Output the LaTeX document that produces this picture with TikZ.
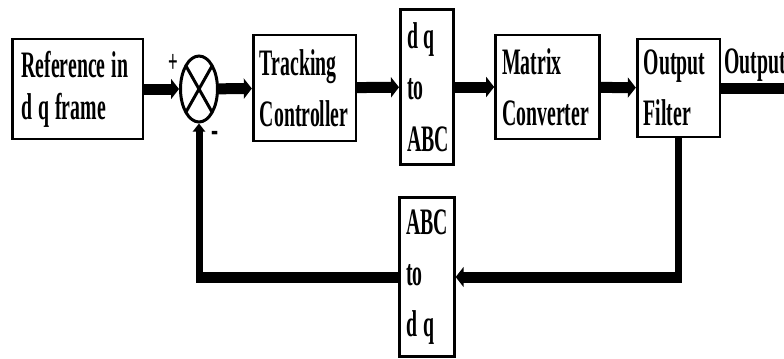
\documentclass[tikz,border=0pt]{standalone}
\usepackage{fontspec}
\usetikzlibrary{arrows.meta,shapes.geometric}
\newfontfamily\blockfont{Liberation Serif}[FakeStretch=0.53,WordSpace=1.2]

\tikzset{
  block/.style={draw, line width=2pt, align=flush left, inner xsep=5pt, inner ysep=2pt,
    font=\blockfont\bfseries\fontsize{28pt}{38.5pt}\selectfont},
  hwire/.style={line width=8.25pt},
  vwire/.style={line width=5.25pt},
  harrow/.style={hwire, -{Triangle[length=6pt,width=15pt]}},
  varrow/.style={vwire, -{Triangle[length=6pt,width=9pt]}},
  sign/.style={inner sep=0pt, font=\blockfont\bfseries\fontsize{#1}{#1}\selectfont},
}

\begin{document}
\begin{tikzpicture}[x=0.75pt,y=0.75pt,yscale=-1,xscale=1]
\useasboundingbox (0,0) rectangle (784,358);

% forward path blocks
\node[block, inner xsep=7pt, text width=84pt, minimum height=75pt,
  font=\blockfont\bfseries\fontsize{28pt}{31.5pt}\selectfont] (ref) at (77.5,89) {Reference in\\d q frame};
\node[block, text width=67pt, minimum height=79.5pt] (tc) at (304.5,88) {Tracking\\Controller};
\node[block, text width=30pt, minimum height=116pt] (dqabc) at (427,87) {d q\\to\\ABC};
\node[block, text width=68pt, minimum height=78pt] (mc) at (547.5,87) {Matrix\\Converter};
\node[block, text width=52pt, minimum height=73.5pt] (of) at (678.5,88) {Output\\Filter};

% feedback block
\node[block, text width=31pt, minimum height=119pt] (abc) at (427,277) {ABC\\to\\d q};

% summing junction
\node[draw, ellipse, line width=2.25pt, minimum width=27.75pt, minimum height=49.5pt, inner sep=0pt] (sum) at (199,89) {};
\draw[line width=2.25pt] ([shift={(13,-23)}]sum.center) -- ([shift={(-13,23)}]sum.center);
\draw[line width=2.25pt] ([shift={(-13,-23)}]sum.center) -- ([shift={(13,23)}]sum.center);
\node[sign=24pt] (plus) at (173,63) {+};
\node[sign=30pt] (minus) at (215,137) {-};

% forward path
\draw[harrow] (ref) -- (sum);
\draw[harrow] (sum) -- (tc);
\draw[harrow] (tc) -- (dqabc);
\draw[harrow] (dqabc) -- (mc);
\draw[harrow] (mc) -- (of);
\coordinate (out) at (790,88);
\draw[hwire] (of) -- (out);
\node[anchor=base west, inner sep=0pt, font=\blockfont\bfseries\fontsize{28pt}{28pt}\selectfont] (outlbl) at (724,73) {Output};

% feedback path
\coordinate (fbr) at (of.south |- abc.east);
\coordinate (fbl) at (sum.south |- abc.west);
\draw[vwire, shorten >=-4.1pt] (of.south) -- (fbr);
\draw[harrow, shorten <=-2.6pt] (fbr) -- (abc.east);
\draw[hwire, shorten >=-2.6pt] (abc.west) -- (fbl);
\draw[varrow, shorten <=-4.1pt] (fbl) -- (sum.south);

\end{tikzpicture}
\end{document}
